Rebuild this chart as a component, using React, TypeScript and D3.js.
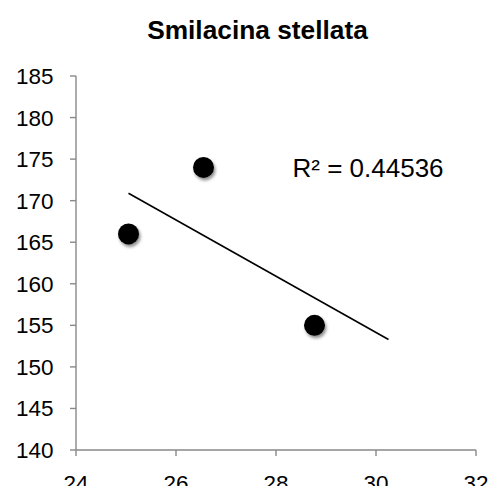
import React from "react";
import * as d3 from "d3";

const title = "Smilacina stellata";
const xValues = [25.05, 26.55, 28.77];
const yValues = [166, 174, 155];
const xTicks = [24, 26, 28, 30, 32];
const yTicks = [140, 145, 150, 155, 160, 165, 170, 175, 180, 185];
const xDomain = [24, 32];
const yDomain = [140, 185];
const forecastForward = [1.48];
const r2Label = "R² = 0.44536";

const W = 501;
const H = 486;
const FONT = "'Liberation Sans', Arial, sans-serif";

export default function App() {
  const x = d3.scaleLinear().domain(xDomain).range([76, 476]);
  const y = d3.scaleLinear().domain(yDomain).range([450, 76]);
  const axisColor = "#898989";

  const pts = xValues.map((v, i) => ({ x: v, y: yValues[i] }));
  const mx = d3.mean(xValues) as number;
  const my = d3.mean(yValues) as number;
  const sxy = d3.sum(pts, (p) => (p.x - mx) * (p.y - my));
  const sxx = d3.sum(pts, (p) => (p.x - mx) ** 2);
  const slope = sxy / sxx;
  const intercept = my - slope * mx;
  const x0 = d3.min(xValues) as number;
  const x1 = (d3.max(xValues) as number) + forecastForward[0];
  const trend = [
    { x: x0, y: intercept + slope * x0 },
    { x: x1, y: intercept + slope * x1 },
  ];
  const line = d3
    .line<{ x: number; y: number }>()
    .x((d) => x(d.x))
    .y((d) => y(d.y));

  return (
    <svg
      width={W}
      height={H}
      style={{ position: "absolute", left: 0, top: 0, background: "#fff" }}
      fontFamily={FONT}
    >
      <defs>
        <filter id="shadow" x="-50%" y="-50%" width="200%" height="200%">
          <feDropShadow dx="1.5" dy="2.5" stdDeviation="1.8" floodColor="#000" floodOpacity="0.45" />
        </filter>
      </defs>
      <rect x={0} y={0} width={W} height={H} fill="#fff" />
      <text x={257.5} y={38.5} textAnchor="middle" fontWeight="bold" fontSize={26.3} fill="#000">
        {title}
      </text>

      {/* y axis */}
      <line x1={x(xDomain[0])} x2={x(xDomain[0])} y1={y(yDomain[0])} y2={y(yDomain[1])} stroke={axisColor} strokeWidth={1.4} />
      {yTicks.map((t) => (
        <g key={"y" + t}>
          <line x1={x(xDomain[0]) - 6} x2={x(xDomain[0])} y1={y(t)} y2={y(t)} stroke={axisColor} strokeWidth={1.4} />
          <text x={53.5} y={y(t) + 8} textAnchor="end" fontSize={22.5} fill="#000">
            {t}
          </text>
        </g>
      ))}

      {/* x axis */}
      <line x1={x(xDomain[0])} x2={x(xDomain[1])} y1={y(yDomain[0])} y2={y(yDomain[0])} stroke={axisColor} strokeWidth={1.4} />
      {xTicks.map((t) => (
        <g key={"x" + t}>
          <line x1={x(t)} x2={x(t)} y1={y(yDomain[0])} y2={y(yDomain[0]) + 6} stroke={axisColor} strokeWidth={1.4} />
          <text x={x(t)} y={491} textAnchor="middle" fontSize={22.5} fill="#000">
            {t}
          </text>
        </g>
      ))}

      <path d={line(trend) || ""} stroke="#000" strokeWidth={1.6} fill="none" />

      {pts.map((p, i) => (
        <circle key={i} cx={x(p.x)} cy={y(p.y)} r={10.5} fill="#000" filter="url(#shadow)" />
      ))}

      <text x={292.5} y={176.8} fontSize={26} fill="#000">
        {r2Label}
      </text>
    </svg>
  );
}
